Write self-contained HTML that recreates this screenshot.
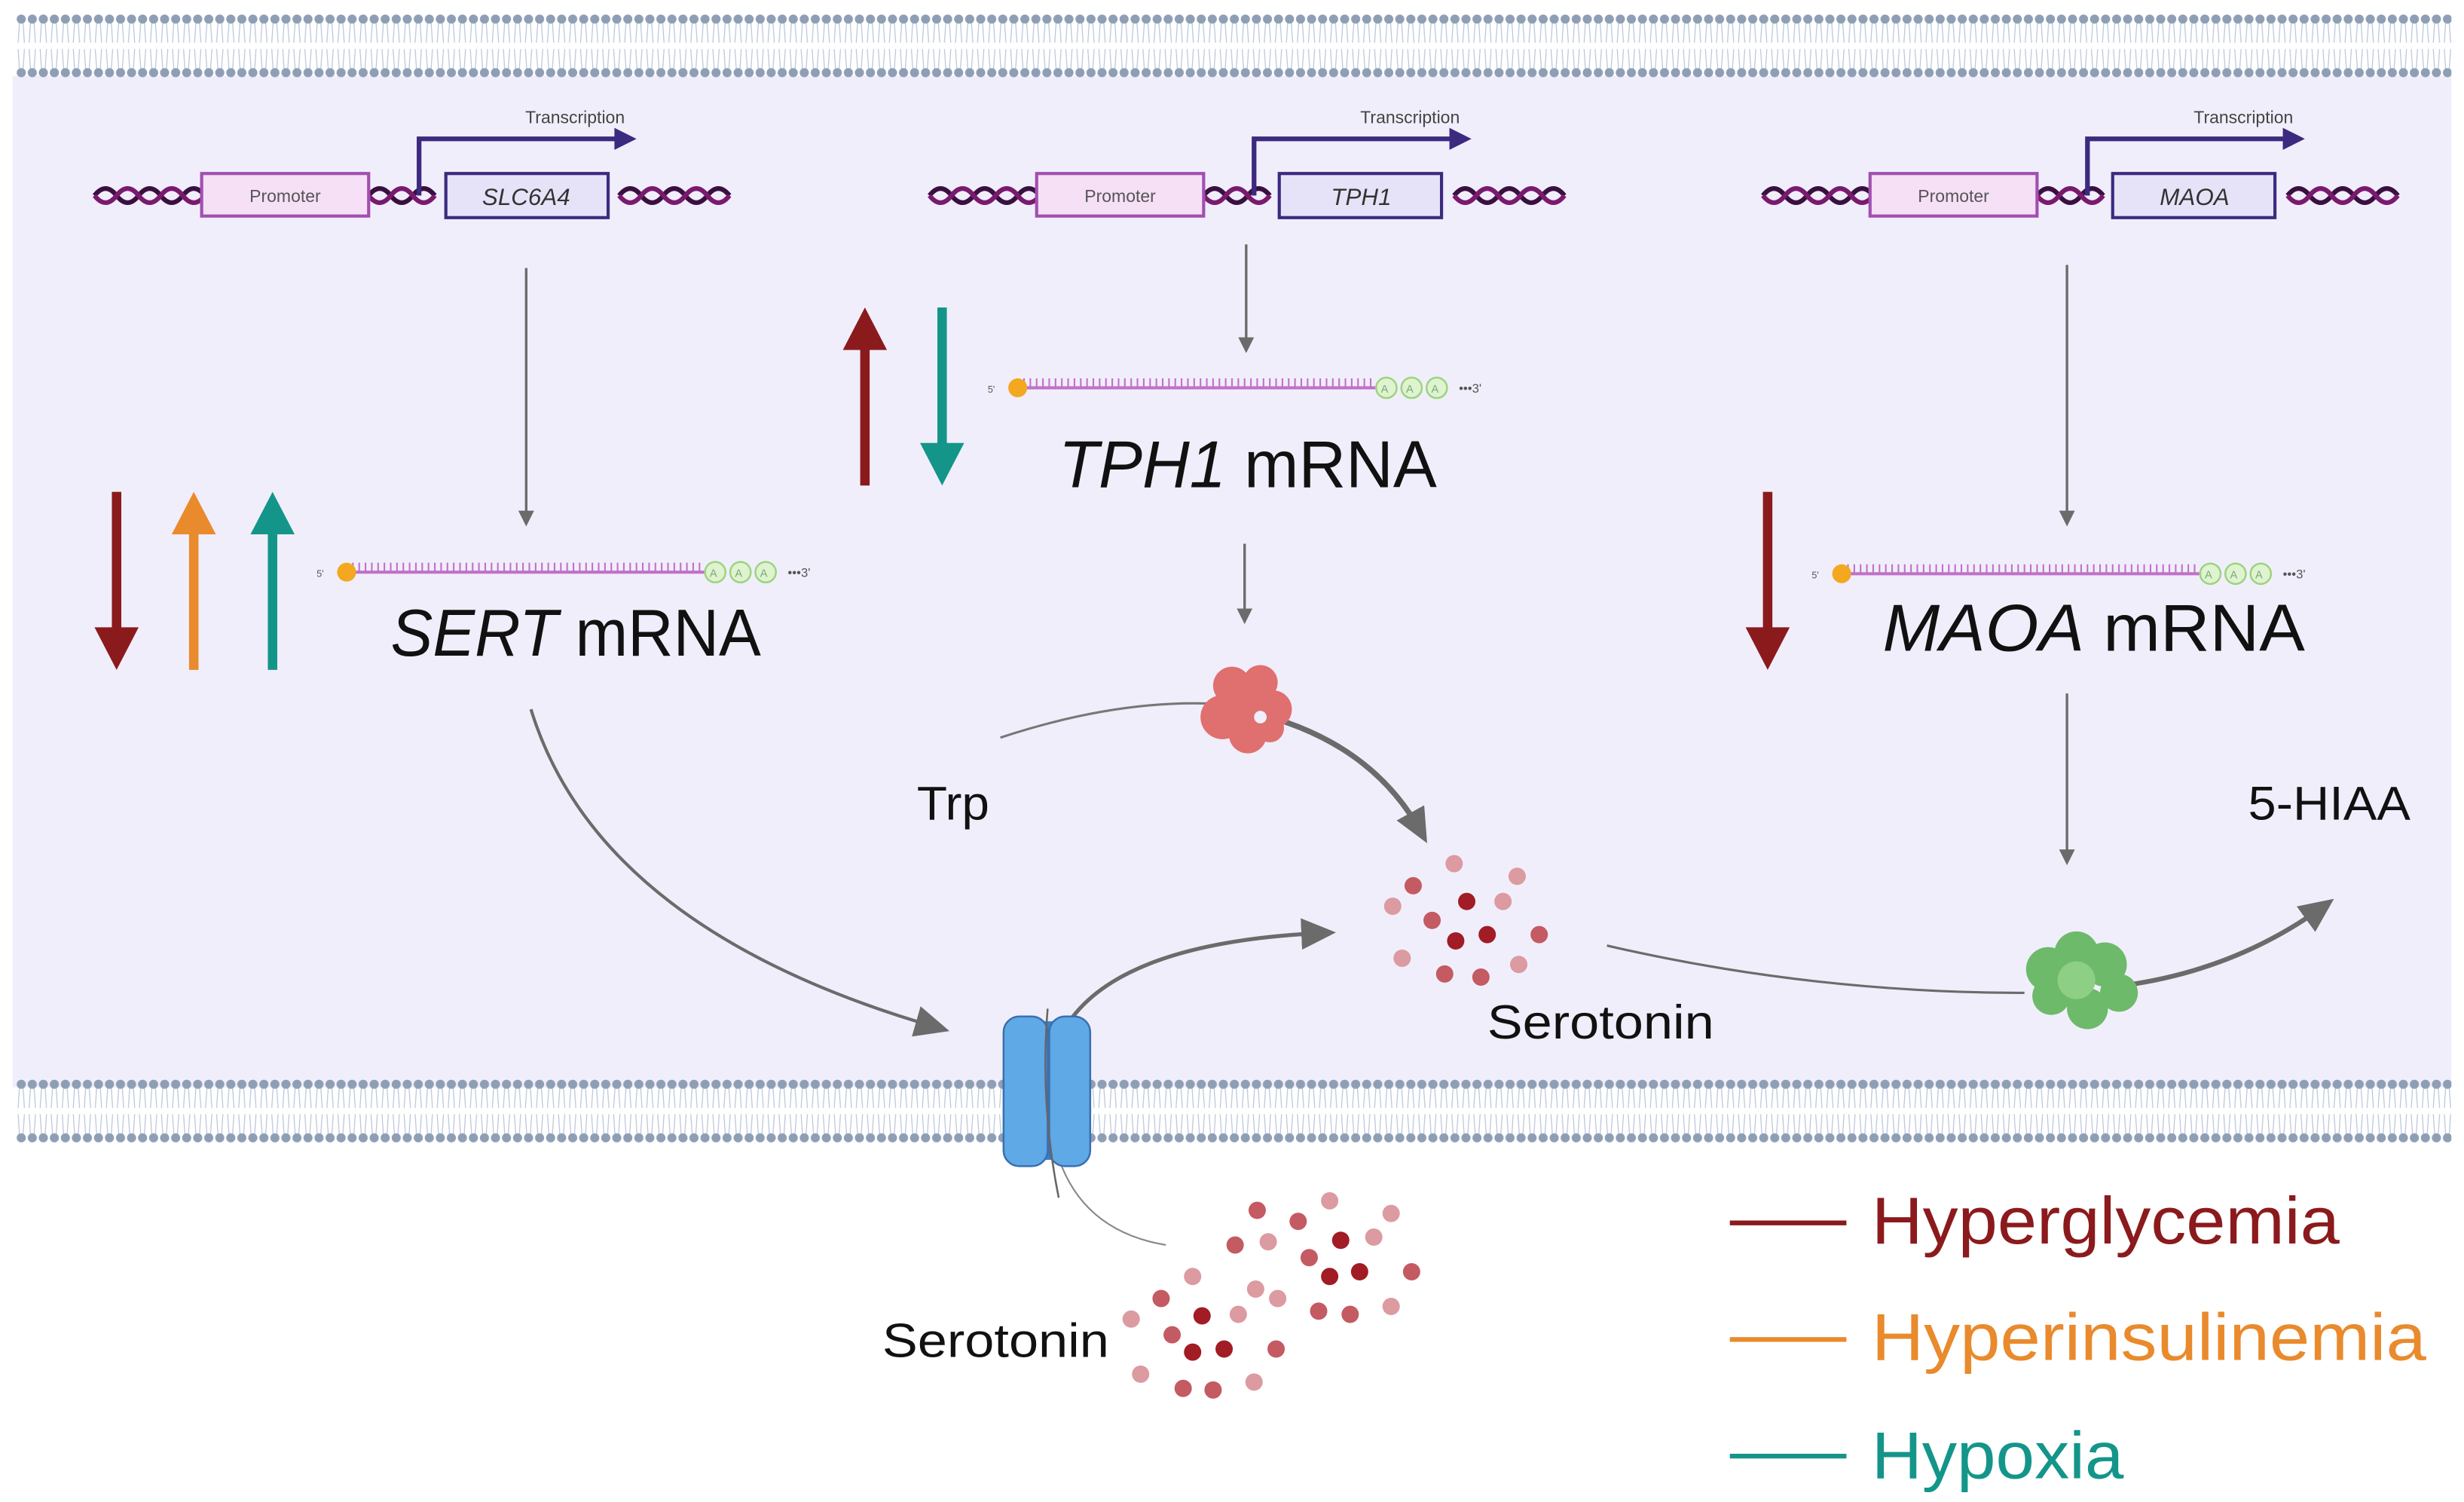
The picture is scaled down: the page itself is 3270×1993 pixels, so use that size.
<!DOCTYPE html>
<html><head><meta charset="utf-8"><style>
html,body{margin:0;padding:0;background:#fff;}
svg{display:block;}
text{font-family:"Liberation Sans",sans-serif;}
</style></head><body>
<svg width="3270" height="1993" viewBox="0 0 1564 953" xmlns="http://www.w3.org/2000/svg">
<defs>
<pattern id="mem" x="10" y="9" width="7" height="40" patternUnits="userSpaceOnUse">
<path d="M2.5 3 L1.5 18 M4.5 3 L5.5 18 M1.5 22 L2.5 37 M5.5 22 L4.5 37" stroke="#b9c6da" stroke-width="0.6" fill="none"/>
<circle cx="3.5" cy="3" r="2.9" fill="#8e9fb5"/>
<circle cx="3.5" cy="37" r="2.9" fill="#8e9fb5"/>
</pattern>
<pattern id="mem2" x="10" y="685" width="7" height="40" patternUnits="userSpaceOnUse">
<path d="M2.5 3 L1.5 18 M4.5 3 L5.5 18 M1.5 22 L2.5 37 M5.5 22 L4.5 37" stroke="#b9c6da" stroke-width="0.6" fill="none"/>
<circle cx="3.5" cy="3" r="2.9" fill="#8e9fb5"/>
<circle cx="3.5" cy="37" r="2.9" fill="#8e9fb5"/>
</pattern>
<marker id="ah" markerWidth="10" markerHeight="10" refX="6" refY="5" orient="auto" markerUnits="userSpaceOnUse"><path d="M0 0 L10 5 L0 10 Z" fill="#6b6b6b"/></marker>
<marker id="ahb" markerWidth="22" markerHeight="20" refX="14" refY="10" orient="auto" markerUnits="userSpaceOnUse"><path d="M0 0 L22 10 L0 20 Z" fill="#6b6b6b"/></marker>
<g id="helix"><path d="M0 0 q7 -9 14 0 t14 0 t14 0 t14 0 t14 0" stroke="#3a1040" stroke-width="3" fill="none"/><path d="M0 0 q7 9 14 0 t14 0 t14 0 t14 0 t14 0" stroke="#7a1a6e" stroke-width="3" fill="none"/></g>
<g id="helix2"><path d="M0 0 q7 -9 14 0 t14 0 t14 0" stroke="#3a1040" stroke-width="3" fill="none"/><path d="M0 0 q7 9 14 0 t14 0 t14 0" stroke="#7a1a6e" stroke-width="3" fill="none"/></g>
</defs>
<rect x="0" y="0" width="1564" height="953" fill="#fff"/>
<rect x="8" y="48" width="1548" height="642" fill="#f1eefb"/>
<rect x="10" y="9" width="1546" height="40" fill="url(#mem)"/>
<rect x="10" y="685" width="1546" height="40" fill="url(#mem2)"/>

<!-- genes -->
<g id="gene1">
<use href="#helix" x="60" y="124"/><use href="#helix2" x="234" y="124"/><use href="#helix" x="393" y="124"/>
<rect x="128" y="110" width="106" height="27" fill="#f6e0f6" stroke="#a24fb0" stroke-width="2"/>
<text x="181" y="128" font-size="11" fill="#555" text-anchor="middle">Promoter</text>
<path d="M266 124 V88 H392" stroke="#3c2a80" stroke-width="3" fill="none"/><path d="M390 81 L404 88 L390 95Z" fill="#3c2a80"/>
<text x="365" y="78" font-size="11" fill="#444" text-anchor="middle">Transcription</text>
</g>
<rect x="283" y="110" width="103" height="28" fill="#e6e3f8" stroke="#3c2a80" stroke-width="2"/>
<text x="334" y="130" font-size="15" font-style="italic" fill="#333" text-anchor="middle">SLC6A4</text>
<use href="#gene1" x="530" y="0"/>
<rect x="812" y="110" width="103" height="28" fill="#e6e3f8" stroke="#3c2a80" stroke-width="2"/>
<text x="864" y="130" font-size="15" font-style="italic" fill="#333" text-anchor="middle">TPH1</text>
<use href="#gene1" x="1059" y="0"/>
<rect x="1341" y="110" width="103" height="28" fill="#e6e3f8" stroke="#3c2a80" stroke-width="2"/>
<text x="1393" y="130" font-size="15" font-style="italic" fill="#333" text-anchor="middle">MAOA</text>

<!-- gray arrows -->
<g stroke="#6b6b6b" stroke-width="1.6" fill="none" marker-end="url(#ah)">
<path d="M334 170 V330"/><path d="M791 155 V220"/><path d="M790 345 V392"/><path d="M1312 168 V330"/><path d="M1312 440 V545"/>
</g>

<!-- mRNAs -->
<g id="mrna">
<text x="201" y="366" font-size="6" fill="#555">5'</text>
<line x1="220" y1="363" x2="447" y2="363" stroke="#c071c8" stroke-width="2"/>
<path d="M224 363 V357 M228 363 V357 M232 363 V357 M236 363 V357 M240 363 V357 M244 363 V357 M248 363 V357 M252 363 V357 M256 363 V357 M260 363 V357 M264 363 V357 M268 363 V357 M272 363 V357 M276 363 V357 M280 363 V357 M284 363 V357 M288 363 V357 M292 363 V357 M296 363 V357 M300 363 V357 M304 363 V357 M308 363 V357 M312 363 V357 M316 363 V357 M320 363 V357 M324 363 V357 M328 363 V357 M332 363 V357 M336 363 V357 M340 363 V357 M344 363 V357 M348 363 V357 M352 363 V357 M356 363 V357 M360 363 V357 M364 363 V357 M368 363 V357 M372 363 V357 M376 363 V357 M380 363 V357 M384 363 V357 M388 363 V357 M392 363 V357 M396 363 V357 M400 363 V357 M404 363 V357 M408 363 V357 M412 363 V357 M416 363 V357 M420 363 V357 M424 363 V357 M428 363 V357 M432 363 V357 M436 363 V357 M440 363 V357 M444 363 V357" stroke="#c071c8" stroke-width="1"/>
<circle cx="220" cy="363" r="6" fill="#f3a81f"/>
<circle cx="454" cy="363" r="6.5" fill="#dff3d0" stroke="#9cd47f" stroke-width="1.2"/>
<circle cx="470" cy="363" r="6.5" fill="#dff3d0" stroke="#9cd47f" stroke-width="1.2"/>
<circle cx="486" cy="363" r="6.5" fill="#dff3d0" stroke="#9cd47f" stroke-width="1.2"/>
<text x="450.5" y="366" font-size="7" fill="#7a7">A</text><text x="466.5" y="366" font-size="7" fill="#7a7">A</text><text x="482.5" y="366" font-size="7" fill="#7a7">A</text>
<text x="500" y="366" font-size="8" fill="#555">•••3'</text>
</g>
<use href="#mrna" x="426" y="-117"/>
<use href="#mrna" x="949" y="1"/>

<!-- labels -->
<text x="248" y="416" font-size="42" fill="#111" textLength="235" lengthAdjust="spacingAndGlyphs"><tspan font-style="italic">SERT</tspan> mRNA</text>
<text x="672" y="309" font-size="42" fill="#111" textLength="240" lengthAdjust="spacingAndGlyphs"><tspan font-style="italic">TPH1</tspan> mRNA</text>
<text x="1195" y="413" font-size="42" fill="#111" textLength="268" lengthAdjust="spacingAndGlyphs"><tspan font-style="italic">MAOA</tspan> mRNA</text>

<!-- colored arrows -->
<g stroke-width="6">
<line x1="74" y1="312" x2="74" y2="400" stroke="#8b1a1d"/><path d="M60 398 L88 398 L74 425Z" fill="#8b1a1d"/>
<line x1="123" y1="425" x2="123" y2="337" stroke="#e98a2c"/><path d="M109 339 L137 339 L123 312Z" fill="#e98a2c"/>
<line x1="173" y1="425" x2="173" y2="337" stroke="#14958a"/><path d="M159 339 L187 339 L173 312Z" fill="#14958a"/>
<line x1="549" y1="308" x2="549" y2="220" stroke="#8b1a1d"/><path d="M535 222 L563 222 L549 195Z" fill="#8b1a1d"/>
<line x1="598" y1="195" x2="598" y2="283" stroke="#14958a"/><path d="M584 281 L612 281 L598 308Z" fill="#14958a"/>
<line x1="1122" y1="312" x2="1122" y2="400" stroke="#8b1a1d"/><path d="M1108 398 L1136 398 L1122 425Z" fill="#8b1a1d"/>
</g>

<!-- pathway curves -->
<path d="M635 468 Q720 440 790 448" stroke="#777" stroke-width="1.5" fill="none"/>
<path d="M795 452 Q870 470 902 528" stroke="#6b6b6b" stroke-width="3.5" fill="none" marker-end="url(#ahb)"/>
<path d="M337 450 Q380 590 595 652" stroke="#6b6b6b" stroke-width="2" fill="none" marker-end="url(#ahb)"/>
<path d="M665 700 Q660 600 840 592" stroke="#6b6b6b" stroke-width="2.5" fill="none" marker-end="url(#ahb)"/>
<path d="M668 720 Q680 780 740 790" stroke="#888" stroke-width="1" fill="none"/>
<path d="M1020 600 Q1150 630 1285 630" stroke="#6b6b6b" stroke-width="1.5" fill="none"/>
<path d="M1350 625 Q1420 615 1475 575" stroke="#6b6b6b" stroke-width="3" fill="none" marker-end="url(#ahb)"/>

<!-- TPH enzyme -->
<g fill="#e06f6f">
<circle cx="782" cy="435" r="12"/><circle cx="800" cy="433" r="11"/><circle cx="808" cy="450" r="12"/><circle cx="776" cy="455" r="14"/><circle cx="792" cy="466" r="12"/><circle cx="806" cy="462" r="9"/><circle cx="790" cy="448" r="10"/>
</g>
<circle cx="800" cy="455" r="4" fill="#f1eefb"/>
<!-- MAOA enzyme -->
<g fill="#6cba6a">
<circle cx="1300" cy="615" r="14"/><circle cx="1318" cy="605" r="14"/><circle cx="1336" cy="612" r="14"/><circle cx="1345" cy="630" r="12"/><circle cx="1325" cy="640" r="13"/><circle cx="1302" cy="632" r="12"/><circle cx="1318" cy="622" r="12" fill="#8dcf85"/>
</g>

<!-- transporter -->
<rect x="660" y="648" width="12" height="88" rx="3" fill="#3b7fcf"/>
<rect x="637" y="645" width="28" height="95" rx="10" fill="#5ea9e6" stroke="#3b6fb0" stroke-width="1.2"/>
<rect x="666" y="645" width="26" height="95" rx="10" fill="#5ea9e6" stroke="#3b6fb0" stroke-width="1.2"/>
<path d="M665 640 Q660 700 672 760" stroke="#666" stroke-width="1.2" fill="none"/>

<text x="582" y="520" font-size="30" fill="#111" textLength="46" lengthAdjust="spacingAndGlyphs">Trp</text>
<text x="1427" y="520" font-size="30" fill="#111" textLength="103" lengthAdjust="spacingAndGlyphs">5-HIAA</text>
<text x="944" y="659" font-size="30" fill="#111" textLength="144" lengthAdjust="spacingAndGlyphs">Serotonin</text>
<text x="560" y="861" font-size="30" fill="#111" textLength="144" lengthAdjust="spacingAndGlyphs">Serotonin</text>

<!-- serotonin dots -->
<g>
<circle cx="923" cy="548" r="5.5" fill="#dc9aa1"/><circle cx="897" cy="562" r="5.5" fill="#c45a62"/><circle cx="963" cy="556" r="5.5" fill="#dc9aa1"/><circle cx="884" cy="575" r="5.5" fill="#dc9aa1"/><circle cx="931" cy="572" r="5.5" fill="#a11c25"/><circle cx="954" cy="572" r="5.5" fill="#dc9aa1"/><circle cx="909" cy="584" r="5.5" fill="#c45a62"/><circle cx="924" cy="597" r="5.5" fill="#a11c25"/><circle cx="944" cy="593" r="5.5" fill="#a11c25"/><circle cx="977" cy="593" r="5.5" fill="#c45a62"/><circle cx="890" cy="608" r="5.5" fill="#dc9aa1"/><circle cx="917" cy="618" r="5.5" fill="#c45a62"/><circle cx="940" cy="620" r="5.5" fill="#c45a62"/><circle cx="964" cy="612" r="5.5" fill="#dc9aa1"/>
<circle cx="798" cy="768" r="5.5" fill="#c45a62"/><circle cx="824" cy="775" r="5.5" fill="#c45a62"/><circle cx="844" cy="762" r="5.5" fill="#dc9aa1"/><circle cx="883" cy="770" r="5.5" fill="#dc9aa1"/><circle cx="784" cy="790" r="5.5" fill="#c45a62"/><circle cx="805" cy="788" r="5.5" fill="#dc9aa1"/><circle cx="851" cy="787" r="5.5" fill="#a11c25"/><circle cx="872" cy="785" r="5.5" fill="#dc9aa1"/><circle cx="831" cy="798" r="5.5" fill="#c45a62"/><circle cx="844" cy="810" r="5.5" fill="#a11c25"/><circle cx="863" cy="807" r="5.5" fill="#a11c25"/><circle cx="896" cy="807" r="5.5" fill="#c45a62"/><circle cx="757" cy="810" r="5.5" fill="#dc9aa1"/><circle cx="737" cy="824" r="5.5" fill="#c45a62"/><circle cx="797" cy="818" r="5.5" fill="#dc9aa1"/><circle cx="811" cy="824" r="5.5" fill="#dc9aa1"/><circle cx="837" cy="832" r="5.5" fill="#c45a62"/><circle cx="857" cy="834" r="5.5" fill="#c45a62"/><circle cx="883" cy="829" r="5.5" fill="#dc9aa1"/><circle cx="718" cy="837" r="5.5" fill="#dc9aa1"/><circle cx="763" cy="835" r="5.5" fill="#a11c25"/><circle cx="786" cy="834" r="5.5" fill="#dc9aa1"/><circle cx="744" cy="847" r="5.5" fill="#c45a62"/><circle cx="757" cy="858" r="5.5" fill="#a11c25"/><circle cx="777" cy="856" r="5.5" fill="#a11c25"/><circle cx="810" cy="856" r="5.5" fill="#c45a62"/><circle cx="724" cy="872" r="5.5" fill="#dc9aa1"/><circle cx="751" cy="881" r="5.5" fill="#c45a62"/><circle cx="770" cy="882" r="5.5" fill="#c45a62"/><circle cx="796" cy="877" r="5.5" fill="#dc9aa1"/>
</g>

<!-- legend -->
<line x1="1098" y1="776" x2="1172" y2="776" stroke="#8b1a1d" stroke-width="3"/>
<line x1="1098" y1="850" x2="1172" y2="850" stroke="#e98a2c" stroke-width="3"/>
<line x1="1098" y1="924" x2="1172" y2="924" stroke="#14958a" stroke-width="3"/>
<text x="1188" y="789" font-size="42" fill="#8b1a1d" textLength="297" lengthAdjust="spacingAndGlyphs">Hyperglycemia</text>
<text x="1188" y="863" font-size="42" fill="#e98a2c" textLength="352" lengthAdjust="spacingAndGlyphs">Hyperinsulinemia</text>
<text x="1188" y="938" font-size="42" fill="#14958a" textLength="160" lengthAdjust="spacingAndGlyphs">Hypoxia</text>
</svg>
</body></html>
